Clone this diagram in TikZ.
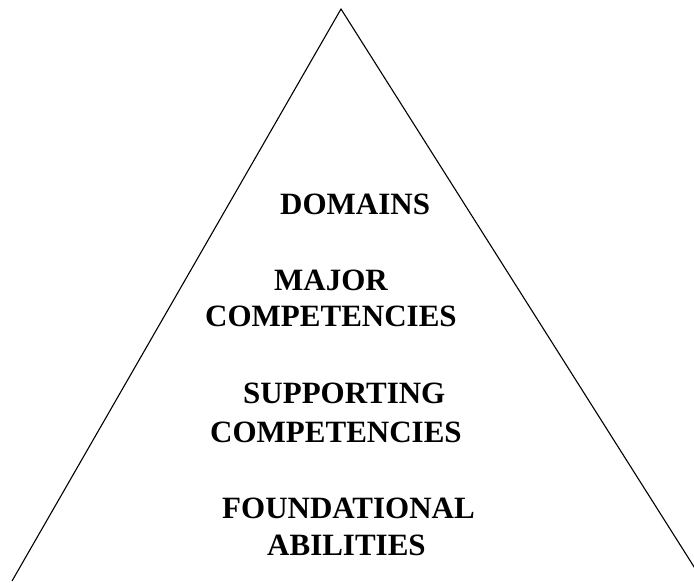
\documentclass[tikz,border=0pt]{standalone}
\usepackage{fontspec}
\setmainfont{Liberation Serif}
\begin{document}
\begin{tikzpicture}[x=1pt,y=-1pt,
  label/.style={anchor=base west,inner sep=0pt,font=\fontsize{31}{36}\selectfont\bfseries},
  edge/.style={line width=1.1pt,black}]
\useasboundingbox (0,0) rectangle (694,582);
\clip (0,0) rectangle (694,582);
\coordinate (apex) at (341,9);
\coordinate (bl) at (12,581);
\coordinate (br) at (703,581);
\draw[edge] (bl) -- (apex) -- (br);
\node[label] (domains) at (280,214) {DOMAINS};
\node[label] (major) at (274,290) {MAJOR};
\node[label] (comp1) at (205,326) {COMPETENCIES};
\node[label] (supp) at (243,403) {SUPPORTING};
\node[label] (comp2) at (210,442) {COMPETENCIES};
\node[label] (found) at (222,518) {FOUNDATIONAL};
\node[label] (abil) at (267,555) {ABILITIES};
\end{tikzpicture}
\end{document}
